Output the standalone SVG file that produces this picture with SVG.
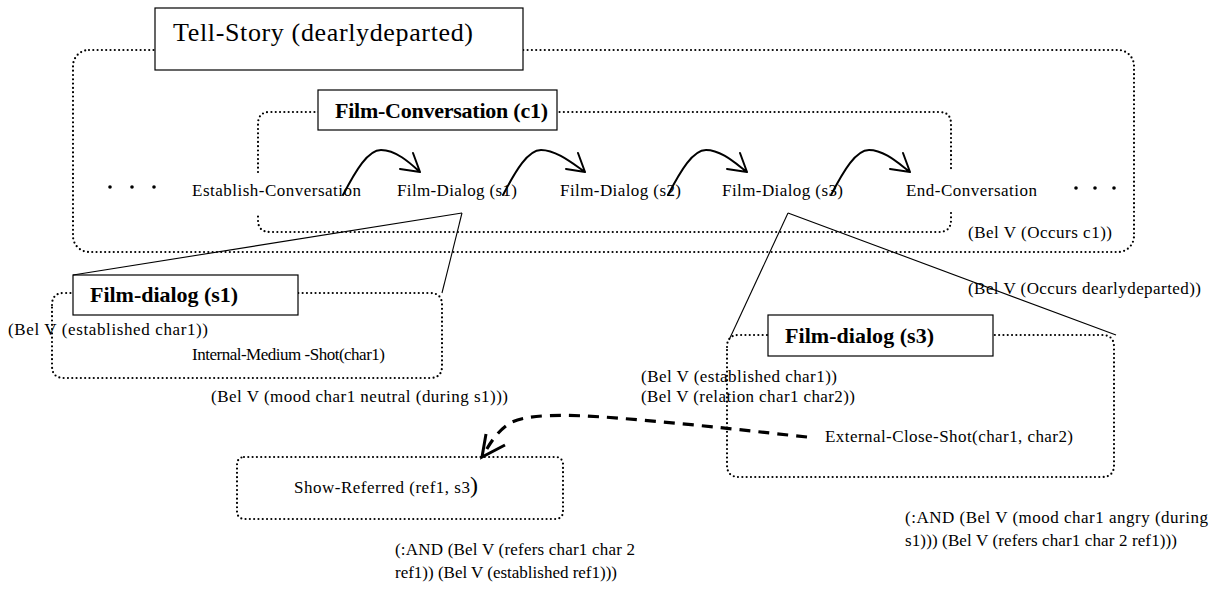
<svg xmlns="http://www.w3.org/2000/svg" width="1220" height="593" viewBox="0 0 1220 593">
<defs>
<style>
text{font-family:"Liberation Serif","Times New Roman",serif;fill:#000;}
.t{font-size:17px;}
.b{font-size:22px;font-weight:bold;}
.box{fill:#fff;stroke:#000;stroke-width:1.2;}
.dot{fill:none;stroke:#000;stroke-width:2.2;stroke-linecap:round;stroke-dasharray:0 4.3;}
.sol{fill:none;stroke:#000;stroke-width:1.1;}
.arc{fill:none;stroke:#000;stroke-width:2;stroke-linecap:round;}
.dash{fill:none;stroke:#000;stroke-width:3.2;stroke-dasharray:11 8;}
</style>
</defs>
<g id="outer">
<rect class="dot" x="73" y="50" width="1061" height="202" rx="16"/>
</g>
<g id="inner">
<path class="dot" d="M258,172 V124 Q258,112 270,112 H939 Q951,112 951,124 V172 M951,213 V220 Q951,232 939,232 H270 Q258,232 258,220 V215"/>
</g>
<g id="tell-story">
<rect class="box" x="155" y="8" width="368" height="62"/>
<text x="173" y="41" font-size="26" textLength="300">Tell-Story (dearlydeparted)</text>
</g>
<g id="film-conversation">
<rect class="box" x="318" y="90" width="239" height="40"/>
<text class="b" x="335" y="118" textLength="213">Film-Conversation (c1)</text>
</g>
<g id="ellipses">
<circle cx="110" cy="187" r="1.8"/><circle cx="132" cy="187" r="1.8"/><circle cx="154" cy="187" r="1.8"/>
<circle cx="1076" cy="188" r="1.8"/><circle cx="1095" cy="188" r="1.8"/><circle cx="1114" cy="188" r="1.8"/>
</g>
<g id="establish"><text class="t" x="192" y="196" textLength="169">Establish-Conversation</text></g>
<g id="dialog-s1"><text class="t" x="397" y="196" textLength="120">Film-Dialog (s1)</text></g>
<g id="dialog-s2"><text class="t" x="560" y="196" textLength="121">Film-Dialog (s2)</text></g>
<g id="dialog-s3"><text class="t" x="722" y="196" textLength="121">Film-Dialog (s3)</text></g>
<g id="end"><text class="t" x="906" y="196" textLength="131">End-Conversation</text></g>
<g id="labels-top">
<text class="t" x="968" y="238" textLength="144">(Bel V (Occurs c1))</text>
<text class="t" x="968" y="294" textLength="233">(Bel V (Occurs dearlydeparted))</text>
</g>
<g id="s1-detail">
<path class="dot" d="M52,305 Q52,293 64,293 H430 Q442,293 442,305 V366 Q442,378 430,378 H64 Q52,378 52,366 Z"/>
<rect class="box" x="73" y="275" width="225" height="40"/>
<text class="b" x="90" y="302" textLength="148">Film-dialog (s1)</text>
<text class="t" x="8" y="335" textLength="200">(Bel V (established char1))</text>
<text class="t" x="192" y="360" textLength="193">Internal-Medium -Shot(char1)</text>
<text class="t" x="211" y="402" textLength="297">(Bel V (mood char1 neutral (during s1)))</text>
</g>
<g id="s3-detail">
<path class="dot" d="M727,347 Q727,335 739,335 H1102 Q1114,335 1114,347 V465 Q1114,477 1102,477 H739 Q727,477 727,465 Z"/>
<rect class="box" x="768" y="315" width="225" height="41"/>
<text class="b" x="785" y="343" textLength="149">Film-dialog (s3)</text>
<text class="t" x="641" y="382" textLength="196">(Bel V (established char1))</text>
<text class="t" x="641" y="402" textLength="214">(Bel V (relation char1 char2))</text>
<text class="t" x="825" y="442" textLength="248">External-Close-Shot(char1, char2)</text>
<text class="t" x="905" y="523" textLength="303">(:AND (Bel V (mood char1 angry (during</text>
<text class="t" x="905" y="546" textLength="272">s1))) (Bel V (refers char1 char 2 ref1)))</text>
</g>
<g id="show-referred">
<rect class="dot" x="237" y="457" width="326" height="62" rx="7"/>
<text class="t" x="294" y="493" textLength="176">Show-Referred (ref1, s3</text>
<text x="470" y="493" font-size="24">)</text>
<text class="t" x="395" y="555" textLength="240">(:AND (Bel V (refers char1 char 2</text>
<text class="t" x="395" y="578" textLength="222">ref1)) (Bel V (established ref1)))</text>
</g>
<g id="connectors">
<path class="arc" d="M343,195 C356,170 368,150 381,150 C396,150 410,163 420,172 M420,172 L413,153 M420,172 L400,169"/>
<path class="arc" d="M503,195 C516,170 528,150 541,150 C556,150 572,163 585,172 M585,172 L578,153 M585,172 L566,169"/>
<path class="arc" d="M668,195 C681,170 693,150 706,150 C721,150 735,163 747,172 M747,172 L740,153 M747,172 L727,169"/>
<path class="arc" d="M831,195 C844,170 856,150 869,150 C884,150 898,163 910,172 M910,172 L903,153 M910,172 L890,169"/>
<path class="sol" stroke-width="1.5" d="M462,213 L73,275"/>
<path class="sol" d="M462,213 L442,293"/>
<path class="sol" d="M788,213 L729,340"/>
<path class="sol" d="M788,213 L1116,335"/>
<path class="dash" d="M807,437 C760,432 700,425 640,420 C585,415 535,412 512,422 C498,430 490,443 484,454"/>
<path fill="none" stroke="#000" stroke-width="3" d="M486,434 L482,457 L505,445"/>
</g>
</svg>
